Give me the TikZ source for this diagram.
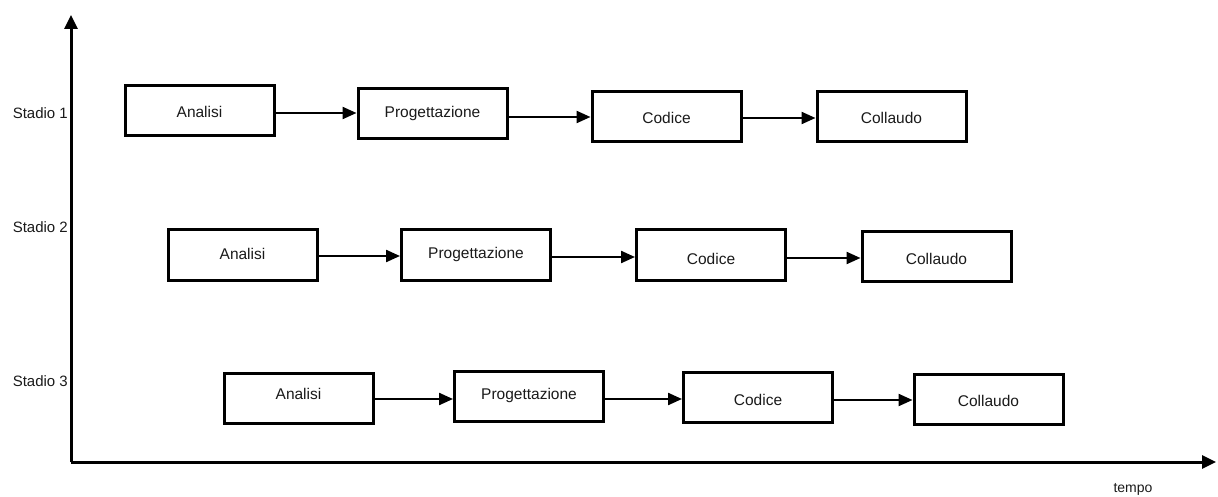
\documentclass[tikz,border=0pt]{standalone}
\usepackage{fontspec}
\setmainfont{Liberation Sans}
\usetikzlibrary{arrows.meta}
\definecolor{ink}{HTML}{1A1A1A}
\begin{document}
\begin{tikzpicture}[x=1pt,y=-1pt,
  phase/.style={draw=black, line width=3pt, fill=white, minimum width=149pt,
    minimum height=50pt, inner sep=0pt, text height=13.5pt, text depth=0.5pt,
    text=ink, font=\fontsize{15.5}{18}\selectfont},
  flow/.style={line width=2.3pt, -{Triangle[length=14pt,width=12pt]}},
  axis/.style={line width=3pt, -{Triangle[length=14pt,width=13pt]}},
  stage/.style={anchor=east, inner sep=0pt, text=ink, font=\fontsize{15}{18}\selectfont}]
\useasboundingbox (0,0) rectangle (1218,497);

% axes
\coordinate (O) at (71,462);
\coordinate (ytip) at (71,15);
\coordinate (xtip) at (1216,462);
\draw[axis] (O) -- (ytip);
\draw[axis] (O) -- (xtip);
\node[inner sep=0pt, text=ink, font=\fontsize{14}{16}\selectfont] (tempo) at (1133,489) {tempo};

% stage labels
\node[stage] (s1) at (68,113) {Stadio 1};
\node[stage] (s2) at (68,227) {Stadio 2};
\node[stage] (s3) at (68,381) {Stadio 3};

% stage 1
\node[phase] (A1) at (199.5,111) {Analisi};
\node[phase] (P1) at (432.5,114) {\raisebox{3pt}{Progettazione}};
\node[phase] (C1) at (666.5,117) {Codice};
\node[phase] (L1) at (891.5,117) {Collaudo};
\draw[flow] (A1.east |- 0,113) -- (P1.west |- 0,113);
\draw[flow] (P1.east |- 0,117) -- (C1.west |- 0,117);
\draw[flow] (C1.east |- 0,118) -- (L1.west |- 0,118);

% stage 2
\node[phase] (A2) at (242.5,255) {\raisebox{2pt}{Analisi}};
\node[phase] (P2) at (476,255) {\raisebox{3pt}{Progettazione}};
\node[phase] (C2) at (711,255) {\raisebox{-3pt}{Codice}};
\node[phase] (L2) at (936.5,256.5) {\raisebox{-1.5pt}{Collaudo}};
\draw[flow] (A2.east |- 0,256) -- (P2.west |- 0,256);
\draw[flow] (P2.east |- 0,257) -- (C2.west |- 0,257);
\draw[flow] (C2.east |- 0,258) -- (L2.west |- 0,258);

% stage 3
\node[phase] (A3) at (298.5,398) {\raisebox{5pt}{Analisi}};
\node[phase] (P3) at (529,396.5) {\raisebox{3.5pt}{Progettazione}};
\node[phase] (C3) at (758,397.5) {\raisebox{-1.5pt}{Codice}};
\node[phase] (L3) at (988.5,399.5) {Collaudo};
\draw[flow] (A3.east |- 0,399) -- (P3.west |- 0,399);
\draw[flow] (P3.east |- 0,399) -- (C3.west |- 0,399);
\draw[flow] (C3.east |- 0,400) -- (L3.west |- 0,400);
\end{tikzpicture}
\end{document}
